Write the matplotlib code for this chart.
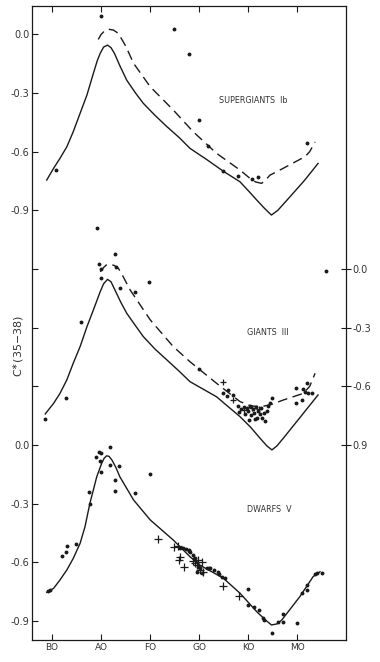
import matplotlib
matplotlib.use("Agg")
import matplotlib.pyplot as plt
import numpy as np

# ---------------- data ----------------
spectral_ticks = ["BO", "AO", "FO", "GO", "KO", "MO"]

# Supergiants Ib
sg_solid_c = [-0.11, 0.03, 0.16, 0.30, 0.43, 0.57, 0.71, 0.84, 0.92, 0.98, 1.05, 1.13, 1.20, 1.27, 1.38,
              1.52, 1.70, 1.86, 2.10, 2.34, 2.60, 2.81, 3.15, 3.49, 3.83, 4.00, 4.17, 4.33, 4.47, 4.60,
              4.85, 5.15, 5.42]
sg_solid_v = [-0.745, -0.685, -0.634, -0.575, -0.498, -0.404, -0.31, -0.20, -0.135, -0.097, -0.065, -0.055,
              -0.068, -0.097, -0.16, -0.234, -0.30, -0.353, -0.415, -0.472, -0.53, -0.583, -0.64, -0.70,
              -0.754, -0.80, -0.847, -0.89, -0.924, -0.90, -0.83, -0.745, -0.66]
sg_dash_c = [0.94, 1.00, 1.07, 1.15, 1.25, 1.35, 1.50, 1.66, 2.0, 2.47, 2.81, 2.91, 3.35, 3.83, 4.03,
             4.15, 4.27, 4.35, 4.44, 4.71, 5.15, 5.25, 5.36]
sg_dash_v = [-0.026, 0.0, 0.018, 0.026, 0.022, 0.005, -0.06, -0.148, -0.268, -0.387, -0.48, -0.506,
             -0.608, -0.694, -0.736, -0.755, -0.762, -0.745, -0.72, -0.685, -0.626, -0.60, -0.55]
sg_pts_c = [1.00, 2.49, 2.79, 0.08, 0.91, 2.99, 3.18, 3.49, 3.79, 4.07, 4.19, 5.19]
sg_pts_v = [0.094, 0.026, -0.10, -0.694, -0.99, -0.438, -0.571, -0.699, -0.723, -0.74, -0.73, -0.554]

# Giants III
g_solid_c = [-0.14, 0.03, 0.16, 0.30, 0.43, 0.57, 0.71, 0.84, 0.98, 1.05, 1.13, 1.20, 1.28, 1.40, 1.52,
             1.70, 1.86, 2.10, 2.34, 2.60, 2.81, 3.35, 3.83, 4.05, 4.24, 4.38, 4.48, 4.58, 4.71, 5.05, 5.42]
g_solid_v = [-0.741, -0.687, -0.636, -0.567, -0.482, -0.397, -0.295, -0.21, -0.116, -0.075, -0.053,
             -0.065, -0.107, -0.17, -0.226, -0.29, -0.346, -0.41, -0.465, -0.525, -0.576, -0.653, -0.755,
             -0.81, -0.866, -0.905, -0.925, -0.905, -0.866, -0.76, -0.644]
g_dash_c = [0.98, 1.05, 1.10, 1.18, 1.27, 1.35, 1.45, 1.59, 2.0, 2.47, 2.81, 3.35, 3.83, 4.05, 4.27,
            4.50, 4.71, 5.12, 5.25, 5.36]
g_dash_v = [-0.014, 0.008, 0.02, 0.024, 0.018, 0.004, -0.04, -0.107, -0.26, -0.397, -0.474, -0.584,
            -0.678, -0.70, -0.704, -0.69, -0.67, -0.636, -0.60, -0.533]
g_pts_c = [-0.14, 0.28, 0.58, 0.96, 1.00, 0.99, 1.28, 1.30, 1.38, 1.68, 1.98, 5.58, 2.99, 3.49, 3.59,
           3.57, 3.69,
           3.79, 3.81, 3.85, 3.91, 3.93, 3.97, 3.99, 4.03, 4.05, 4.09, 4.11, 4.15, 4.18, 4.20, 4.24,
           4.26, 4.28, 4.32, 4.34, 4.38, 4.40, 4.44, 4.48, 4.01, 4.13,
           4.98, 5.19, 5.15, 5.22, 5.29, 5.09, 4.98, 5.11]
g_pts_v = [-0.767, -0.658, -0.269, 0.024, 0.0, -0.044, 0.077, 0.012, -0.095, -0.119, -0.065, -0.01, -0.51,
           -0.636, -0.619, -0.648, -0.646,
           -0.70, -0.73, -0.716, -0.706, -0.741, -0.711, -0.726, -0.70, -0.746, -0.716, -0.736, -0.706,
           -0.762, -0.726, -0.741, -0.711, -0.762, -0.736, -0.777, -0.726, -0.70, -0.685, -0.66, -0.772, -0.767,
           -0.61, -0.581, -0.627, -0.635, -0.635, -0.67, -0.687, -0.613]
g_plus_c = [3.49, 3.69, 3.91, 4.07, 4.22]
g_plus_v = [-0.576, -0.67, -0.72, -0.711, -0.716]

# Dwarfs V
d_solid_c = [-0.11, 0.03, 0.16, 0.30, 0.43, 0.57, 0.67, 0.77, 0.91, 1.01, 1.06, 1.11, 1.16, 1.22, 1.30,
             1.38, 1.66, 2.0, 2.47, 2.81, 3.01, 3.49, 3.83, 4.17, 4.35, 4.47, 4.58, 4.68, 5.05, 5.32, 5.46]
d_solid_v = [-0.753, -0.733, -0.69, -0.639, -0.58, -0.503, -0.418, -0.298, -0.162, -0.094, -0.068,
             -0.055, -0.058, -0.077, -0.115, -0.162, -0.281, -0.383, -0.486, -0.571, -0.614, -0.681,
             -0.758, -0.852, -0.895, -0.92, -0.915, -0.895, -0.775, -0.673, -0.648]
d_pts_c = [-0.09, -0.05, 0.20, 0.28, 0.30, 0.49, 0.76, 0.77, 0.90, 0.96, 0.99, 0.98, 0.99, 1.18, 1.18,
           1.28, 1.28, 1.37, 1.68, 2.00,
           2.61, 2.72, 2.79, 2.67, 2.78, 2.82, 2.88, 2.91, 2.98, 3.01, 3.15, 3.22, 3.29, 3.39, 3.46, 2.95,
           3.05, 3.20, 3.40, 3.52,
           4.00, 4.00, 4.12, 4.22, 4.29, 4.32, 4.49, 4.61, 4.71, 4.71, 5.00, 5.09, 5.19, 5.20, 5.36, 5.40, 5.51]
d_pts_v = [-0.746, -0.741, -0.567, -0.549, -0.515, -0.508, -0.239, -0.303, -0.06, -0.037, -0.043, -0.08,
           -0.14, -0.009, -0.102, -0.179, -0.234, -0.107, -0.244, -0.148,
           -0.528, -0.53, -0.542, -0.528, -0.537, -0.549, -0.562, -0.579, -0.622, -0.627, -0.63, -0.627,
           -0.639, -0.648, -0.673, -0.648, -0.656, -0.627, -0.661, -0.681,
           -0.738, -0.818, -0.83, -0.844, -0.886, -0.895, -0.963, -0.906, -0.864, -0.903, -0.912, -0.758,
           -0.716, -0.741, -0.66, -0.653, -0.656]
d_plus_c = [2.16, 2.48, 2.57, 2.61, 2.59, 2.69, 2.88, 2.91, 2.98, 3.05, 3.01, 3.08, 2.95, 3.49, 3.81]
d_plus_v = [-0.48, -0.52, -0.515, -0.571, -0.588, -0.622, -0.593, -0.605, -0.588, -0.597, -0.639, -0.648,
            -0.613, -0.719, -0.77]

# vertical offsets of the three panels (in C* units)
OFF_SG, OFF_G, OFF_D = 0.0, 1.2, 2.1

left_labels = ["0.0", "-0.3", "-0.6", "-0.9", "", "", "", "0.0", "-0.3", "-0.6", "-0.9"]
right_labels = ["0.0", "-0.3", "-0.6", "0.9"]

# ---------------- plot ----------------
INK = "#1a1a1a"
fig = plt.figure(figsize=(3.8, 6.62), dpi=100)
ax = fig.add_axes([32 / 380, 1 - 640 / 662, 314 / 380, 634 / 662])


def sh(v, off):
    return np.asarray(v) - off


ax.plot(sg_solid_c, sh(sg_solid_v, OFF_SG), color=INK, lw=1.0)
ax.plot(sg_dash_c, sh(sg_dash_v, OFF_SG), color=INK, lw=1.0, dashes=(7, 4))
ax.plot(sg_pts_c, sh(sg_pts_v, OFF_SG), ls="none", marker="o", ms=1.8, color=INK)

ax.plot(g_solid_c, sh(g_solid_v, OFF_G), color=INK, lw=1.0)
ax.plot(g_dash_c, sh(g_dash_v, OFF_G), color=INK, lw=1.0, dashes=(7, 4))
ax.plot(g_pts_c, sh(g_pts_v, OFF_G), ls="none", marker="o", ms=1.8, color=INK)
ax.plot(g_plus_c, sh(g_plus_v, OFF_G), ls="none", marker="+", ms=5, mew=0.9, color=INK)

ax.plot(d_solid_c, sh(d_solid_v, OFF_D), color=INK, lw=1.0)
ax.plot(d_pts_c, sh(d_pts_v, OFF_D), ls="none", marker="o", ms=1.8, color=INK)
ax.plot(d_plus_c, sh(d_plus_v, OFF_D), ls="none", marker="+", ms=6, mew=0.9, color=INK)

ax.set_xlim(-0.41, 5.99)
ax.set_ylim(-3.097, 0.145)

xt = np.arange(len(spectral_ticks))
ax.set_xticks(xt)
ax.set_xticklabels(spectral_ticks, fontsize=6.5, color="#333333")
yt = -0.3 * np.arange(len(left_labels))
ax.set_yticks(yt)
ax.set_yticklabels(left_labels, fontsize=7, color="#333333")
ax.tick_params(axis="both", direction="in", length=4, width=0.8, color=INK, pad=2,
               top=True, right=True)

for s in ax.spines.values():
    s.set_color(INK)
    s.set_linewidth(0.9)

# right-hand labelled scale for the giants
ax2 = ax.twinx()
ax2.set_ylim(ax.get_ylim())
ax2.set_yticks(yt[4:8])
ax2.set_yticklabels(right_labels, fontsize=7, color="#333333")
ax2.tick_params(axis="y", direction="inout", length=7, width=0.8, color=INK, pad=1)
for s in ax2.spines.values():
    s.set_visible(False)

ax.text(4.09, -0.336, "SUPERGIANTS  Ib", fontsize=5.8, ha="center", va="center", color="#333333")
ax.text(4.39, -1.527, "GIANTS  III", fontsize=5.8, ha="center", va="center", color="#333333")
ax.text(4.42, -2.428, "DWARFS  V", fontsize=5.8, ha="center", va="center", color="#333333")

fig.text(19 / 380, 1 - 346 / 662, r"C$^{\ast}$(35$-$38)", rotation=90, fontsize=8,
         ha="center", va="center", color="#333333")

fig.savefig("out.png", dpi=100, facecolor="white")
